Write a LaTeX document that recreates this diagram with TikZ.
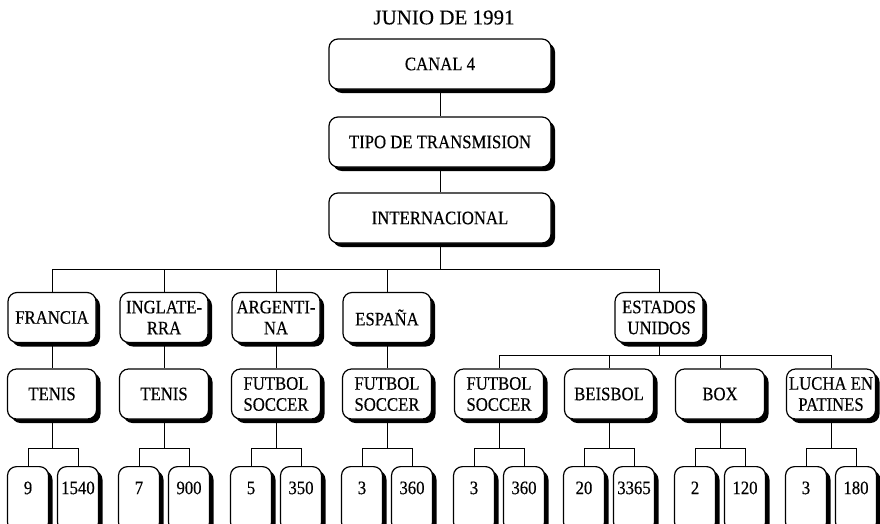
\documentclass[tikz,border=0pt]{standalone}
\usepackage{fontspec}
\setmainfont{Liberation Serif}[FakeStretch=0.88, FakeBold=0.4]
\newfontfamily\titlefont{Liberation Serif}[FakeBold=0.3]
\usetikzlibrary{shadows}

\begin{document}
\begin{tikzpicture}[
  x=1pt, y=-1pt,
  font=\fontsize{19}{21}\selectfont,
  box/.style={draw, fill=white, line width=1.2pt, rounded corners=9pt,
    minimum width=#1, minimum height=50pt, inner sep=1.5pt, align=center,
    drop shadow={shadow xshift=4pt, shadow yshift=-4pt, fill=black, opacity=1}},
  box/.default=89pt,
  leaf/.style={box=41pt, anchor=north, text height=12.5pt, text depth=22pt, inner ysep=15pt},
  link/.style={line width=1pt}
]
  \fill[white] (0,0) rectangle (880,523);
  \useasboundingbox (0,0) rectangle (880,523);

  \node[font=\titlefont\fontsize{21}{24}\selectfont] (title) at (444,17.5) {JUNIO DE 1991};

  % top chain
  \node[box=222pt] (canal) at (440,64) {CANAL 4};
  \node[box=222pt] (tipo) at (440,142) {TIPO DE TRANSMISION};
  \node[box=222pt] (inter) at (440,218) {INTERNACIONAL};

  % countries
  \node[box=88pt] (francia) at (52,317.5) {FRANCIA};
  \node[box=88pt] (inglaterra) at (164,317.5) {INGLATE-\\RRA};
  \node[box=88pt] (argentina) at (276,317.5) {ARGENTI-\\NA};
  \node[box=88pt] (espana) at (387,317.5) {ESPAÑA};
  \node[box=88pt] (usa) at (659,317.5) {ESTADOS\\UNIDOS};

  % sports
  \node[box] (tenisfr) at (52,394) {TENIS};
  \node[box] (tenisin) at (164,394) {TENIS};
  \node[box] (futar) at (276,394) {FUTBOL\\SOCCER};
  \node[box] (futes) at (387,394) {FUTBOL\\SOCCER};
  \node[box] (futus) at (499,394) {FUTBOL\\SOCCER};
  \node[box] (beisbol) at (609,394) {BEISBOL};
  \node[box] (boxus) at (720,394) {BOX};
  \node[box] (lucha) at (831,394) {LUCHA EN\\PATINES};

  % figures
  \node[leaf] (frA) at (28,466) {9};
  \node[leaf] (frB) at (78,466) {1540};
  \node[leaf] (inA) at (139,466) {7};
  \node[leaf] (inB) at (189,466) {900};
  \node[leaf] (arA) at (251,466) {5};
  \node[leaf] (arB) at (301,466) {350};
  \node[leaf] (esA) at (362,466) {3};
  \node[leaf] (esB) at (412,466) {360};
  \node[leaf] (fuA) at (474,466) {3};
  \node[leaf] (fuB) at (524,466) {360};
  \node[leaf] (beA) at (584,466) {20};
  \node[leaf] (beB) at (634,466) {3365};
  \node[leaf] (boA) at (695,466) {2};
  \node[leaf] (boB) at (745,466) {120};
  \node[leaf] (luA) at (806,466) {3};
  \node[leaf] (luB) at (856,466) {180};

  \draw[link] (canal) -- (tipo);
  \draw[link] (tipo) -- (inter);

  \draw[link] (inter.south) -- ++(0,26) -| (francia.north);
  \draw[link] (inter.south) -- ++(0,26) -| (inglaterra.north);
  \draw[link] (inter.south) -- ++(0,26) -| (argentina.north);
  \draw[link] (inter.south) -- ++(0,26) -| (espana.north);
  \draw[link] (inter.south) -- ++(0,26) -| (usa.north);

  \draw[link] (francia) -- (tenisfr);
  \draw[link] (inglaterra) -- (tenisin);
  \draw[link] (argentina) -- (futar);
  \draw[link] (espana) -- (futes);

  \draw[link] (usa.south) -- ++(0,12) -| (futus.north);
  \draw[link] (usa.south) -- ++(0,12) -| (beisbol.north);
  \draw[link] (usa.south) -- ++(0,12) -| (boxus.north);
  \draw[link] (usa.south) -- ++(0,12) -| (lucha.north);

  \draw[link] (tenisfr.south) -- ++(0,29) -| (frA.north);
  \draw[link] (tenisfr.south) -- ++(0,29) -| (frB.north);
  \draw[link] (tenisin.south) -- ++(0,29) -| (inA.north);
  \draw[link] (tenisin.south) -- ++(0,29) -| (inB.north);
  \draw[link] (futar.south) -- ++(0,29) -| (arA.north);
  \draw[link] (futar.south) -- ++(0,29) -| (arB.north);
  \draw[link] (futes.south) -- ++(0,29) -| (esA.north);
  \draw[link] (futes.south) -- ++(0,29) -| (esB.north);
  \draw[link] (futus.south) -- ++(0,29) -| (fuA.north);
  \draw[link] (futus.south) -- ++(0,29) -| (fuB.north);
  \draw[link] (beisbol.south) -- ++(0,29) -| (beA.north);
  \draw[link] (beisbol.south) -- ++(0,29) -| (beB.north);
  \draw[link] (boxus.south) -- ++(0,29) -| (boA.north);
  \draw[link] (boxus.south) -- ++(0,29) -| (boB.north);
  \draw[link] (lucha.south) -- ++(0,29) -| (luA.north);
  \draw[link] (lucha.south) -- ++(0,29) -| (luB.north);
\end{tikzpicture}
\end{document}
